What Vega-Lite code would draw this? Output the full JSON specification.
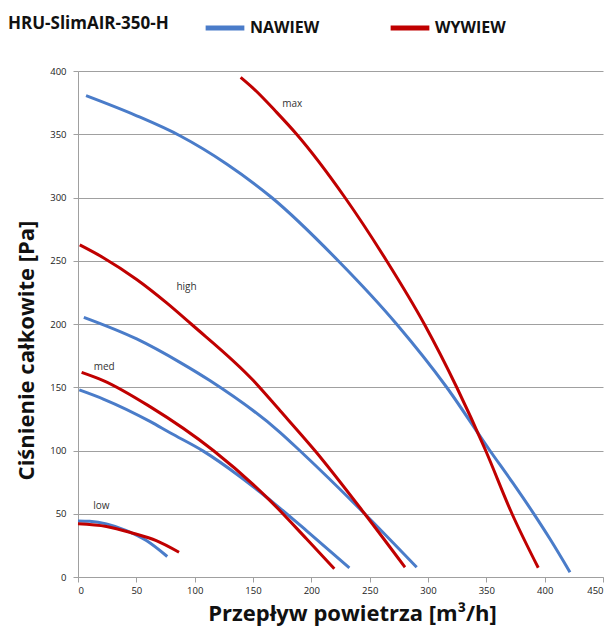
{
  "$schema": "https://vega.github.io/schema/vega-lite/v6.json",
  "width": 525,
  "height": 506,
  "autosize": {"type": "none"},
  "padding": {"left": 78, "top": 71, "right": 13, "bottom": 55},
  "background": "white",
  "title": {
    "text": "HRU-SlimAIR-350-H",
    "anchor": "start",
    "frame": "group",
    "font": "Open Sans",
    "fontSize": 17,
    "fontWeight": "bold",
    "color": "#111111",
    "dx": -70,
    "offset": 0,
    "dy": 27
  },
  "config": {
    "view": {"stroke": null},
    "font": "Open Sans"
  },
  "datasets": {
    "curves": [
      {"typ": "NAWIEW", "bieg": "max", "q": 6.9, "p": 380.5},
      {"typ": "NAWIEW", "bieg": "max", "q": 50.3, "p": 364.6},
      {"typ": "NAWIEW", "bieg": "max", "q": 87.4, "p": 348.8},
      {"typ": "NAWIEW", "bieg": "max", "q": 127.4, "p": 326.5},
      {"typ": "NAWIEW", "bieg": "max", "q": 166, "p": 300},
      {"typ": "NAWIEW", "bieg": "max", "q": 223, "p": 250},
      {"typ": "NAWIEW", "bieg": "max", "q": 273, "p": 200},
      {"typ": "NAWIEW", "bieg": "max", "q": 316, "p": 150},
      {"typ": "NAWIEW", "bieg": "max", "q": 353, "p": 100},
      {"typ": "NAWIEW", "bieg": "max", "q": 373, "p": 74},
      {"typ": "NAWIEW", "bieg": "max", "q": 390.3, "p": 50.5},
      {"typ": "NAWIEW", "bieg": "max", "q": 404.6, "p": 30},
      {"typ": "NAWIEW", "bieg": "max", "q": 421.7, "p": 3.8},
      {"typ": "WYWIEW", "bieg": "max", "q": 139.4, "p": 395},
      {"typ": "WYWIEW", "bieg": "max", "q": 150, "p": 386.5},
      {"typ": "WYWIEW", "bieg": "max", "q": 170.3, "p": 367.3},
      {"typ": "WYWIEW", "bieg": "max", "q": 187.4, "p": 350},
      {"typ": "WYWIEW", "bieg": "max", "q": 228.8, "p": 300},
      {"typ": "WYWIEW", "bieg": "max", "q": 264.5, "p": 250},
      {"typ": "WYWIEW", "bieg": "max", "q": 296.8, "p": 200},
      {"typ": "WYWIEW", "bieg": "max", "q": 324.6, "p": 150},
      {"typ": "WYWIEW", "bieg": "max", "q": 349.4, "p": 100},
      {"typ": "WYWIEW", "bieg": "max", "q": 372, "p": 50},
      {"typ": "WYWIEW", "bieg": "max", "q": 394.5, "p": 7.3},
      {"typ": "NAWIEW", "bieg": "high", "q": 5, "p": 205.3},
      {"typ": "NAWIEW", "bieg": "high", "q": 50.3, "p": 188.2},
      {"typ": "NAWIEW", "bieg": "high", "q": 87.4, "p": 169.7},
      {"typ": "NAWIEW", "bieg": "high", "q": 113, "p": 155.3},
      {"typ": "NAWIEW", "bieg": "high", "q": 173.1, "p": 114.4},
      {"typ": "NAWIEW", "bieg": "high", "q": 190, "p": 100},
      {"typ": "NAWIEW", "bieg": "high", "q": 245.7, "p": 50},
      {"typ": "NAWIEW", "bieg": "high", "q": 290.3, "p": 7.7},
      {"typ": "WYWIEW", "bieg": "high", "q": 1.5, "p": 262.5},
      {"typ": "WYWIEW", "bieg": "high", "q": 21.7, "p": 252.4},
      {"typ": "WYWIEW", "bieg": "high", "q": 50.3, "p": 235.2},
      {"typ": "WYWIEW", "bieg": "high", "q": 76, "p": 216.7},
      {"typ": "WYWIEW", "bieg": "high", "q": 97, "p": 200},
      {"typ": "WYWIEW", "bieg": "high", "q": 150.3, "p": 155.3},
      {"typ": "WYWIEW", "bieg": "high", "q": 173.1, "p": 131.6},
      {"typ": "WYWIEW", "bieg": "high", "q": 203, "p": 100},
      {"typ": "WYWIEW", "bieg": "high", "q": 245.7, "p": 50},
      {"typ": "WYWIEW", "bieg": "high", "q": 280.3, "p": 7.7},
      {"typ": "NAWIEW", "bieg": "med", "q": 1.1, "p": 147.9},
      {"typ": "NAWIEW", "bieg": "med", "q": 21.7, "p": 140.7},
      {"typ": "NAWIEW", "bieg": "med", "q": 61.7, "p": 123},
      {"typ": "NAWIEW", "bieg": "med", "q": 78.9, "p": 114},
      {"typ": "NAWIEW", "bieg": "med", "q": 107.4, "p": 99.5},
      {"typ": "NAWIEW", "bieg": "med", "q": 138.7, "p": 79.5},
      {"typ": "NAWIEW", "bieg": "med", "q": 156, "p": 67.2},
      {"typ": "NAWIEW", "bieg": "med", "q": 173, "p": 54.5},
      {"typ": "NAWIEW", "bieg": "med", "q": 196, "p": 36.5},
      {"typ": "NAWIEW", "bieg": "med", "q": 232.6, "p": 7.3},
      {"typ": "WYWIEW", "bieg": "med", "q": 3.1, "p": 161.8},
      {"typ": "WYWIEW", "bieg": "med", "q": 21.7, "p": 155.3},
      {"typ": "WYWIEW", "bieg": "med", "q": 61.7, "p": 134.7},
      {"typ": "WYWIEW", "bieg": "med", "q": 116, "p": 100},
      {"typ": "WYWIEW", "bieg": "med", "q": 163.1, "p": 61.8},
      {"typ": "WYWIEW", "bieg": "med", "q": 196, "p": 30},
      {"typ": "WYWIEW", "bieg": "med", "q": 219.7, "p": 6.5},
      {"typ": "NAWIEW", "bieg": "low", "q": 0, "p": 44.3},
      {"typ": "NAWIEW", "bieg": "low", "q": 10, "p": 44},
      {"typ": "NAWIEW", "bieg": "low", "q": 24.4, "p": 42},
      {"typ": "NAWIEW", "bieg": "low", "q": 41.5, "p": 36.7},
      {"typ": "NAWIEW", "bieg": "low", "q": 58.6, "p": 28.8},
      {"typ": "NAWIEW", "bieg": "low", "q": 76.5, "p": 16.2},
      {"typ": "WYWIEW", "bieg": "low", "q": 0, "p": 42},
      {"typ": "WYWIEW", "bieg": "low", "q": 24.4, "p": 39.9},
      {"typ": "WYWIEW", "bieg": "low", "q": 47.1, "p": 34.6},
      {"typ": "WYWIEW", "bieg": "low", "q": 67.1, "p": 28.8},
      {"typ": "WYWIEW", "bieg": "low", "q": 86.6, "p": 19.6}
    ],
    "labels": [
      {"label": "max", "q": 183.6, "p": 374},
      {"label": "high", "q": 93, "p": 229},
      {"label": "med", "q": 22.5, "p": 166.3},
      {"label": "low", "q": 20, "p": 56.5}
    ]
  },
  "layer": [
    {
      "data": {"name": "curves"},
      "mark": {"type": "line", "strokeWidth": 3, "interpolate": "monotone"},
      "encoding": {
        "x": {
          "field": "q", "type": "quantitative",
          "scale": {"domain": [0, 450], "nice": false},
          "axis": {
            "values": [0, 50, 100, 150, 200, 250, 300, 350, 400, 450],
            "title": "Przepływ powietrza [m³/h]",
            "titleFont": "Open Sans", "titleFontSize": 22, "titleFontWeight": "bold", "titleColor": "#111111",
            "titlePadding": 9,
            "titleX": 274,
            "labelFont": "Open Sans", "labelFontSize": 9.5, "labelColor": "#222222",
            "grid": false,
            "domainColor": "#a0a0a0", "tickColor": "#a0a0a0", "tickSize": 5,
            "labelPadding": 3
          }
        },
        "y": {
          "field": "p", "type": "quantitative",
          "scale": {"domain": [0, 400], "nice": false},
          "axis": {
            "values": [0, 50, 100, 150, 200, 250, 300, 350, 400],
            "title": "Ciśnienie całkowite [Pa]",
            "titleFont": "Open Sans", "titleFontSize": 22, "titleFontWeight": "bold", "titleColor": "#111111",
            "titlePadding": 11,
            "titleY": 279,
            "labelFont": "Open Sans", "labelFontSize": 9.5, "labelColor": "#222222",
            "grid": true, "gridColor": "#a0a0a0", "gridWidth": 1,
            "domainColor": "#a0a0a0", "tickColor": "#a0a0a0", "tickSize": 5,
            "labelPadding": 7
          }
        },
        "color": {
          "field": "typ", "type": "nominal",
          "scale": {"domain": ["NAWIEW", "WYWIEW"], "range": ["#4a7cc9", "#c00000"]},
          "legend": {
            "title": null,
            "orient": "none",
            "direction": "horizontal",
            "legendX": 125,
            "legendY": -65,
            "symbolType": "stroke",
            "symbolStrokeWidth": 5,
            "symbolSize": 1500,
            "labelFont": "Open Sans",
            "labelFontSize": 16,
            "labelFontWeight": "bold",
            "labelColor": "#111111",
            "labelOffset": 3,
            "columnPadding": 60,
            "labelLimit": 200
          }
        },
        "detail": {"field": "bieg", "type": "nominal"},
        "order": {"field": "q", "type": "quantitative"}
      }
    },
    {
      "data": {"name": "labels"},
      "mark": {"type": "text", "font": "Open Sans", "fontSize": 10, "color": "#333333", "align": "center", "baseline": "middle"},
      "encoding": {
        "x": {"field": "q", "type": "quantitative"},
        "y": {"field": "p", "type": "quantitative"},
        "text": {"field": "label"}
      }
    }
  ]
}
